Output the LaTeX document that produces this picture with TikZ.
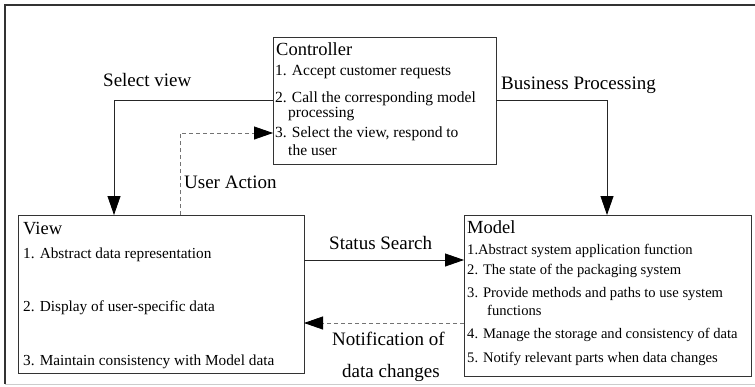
\documentclass[tikz,border=0pt]{standalone}
\usepackage{fontspec}
\setmainfont{Liberation Serif}
\usetikzlibrary{arrows.meta}
\begin{document}
\begin{tikzpicture}[x=1pt,y=-1pt,
  box/.style={draw=black!80, line width=0.9pt, anchor=north west, inner sep=0pt, outer sep=0pt},
  ttl/.style={anchor=base west, inner sep=0pt, font=\fontsize{18.5}{20}\selectfont},
  citm/.style={anchor=base west, inner sep=0pt, font=\fontsize{15.5}{17}\selectfont},
  vitm/.style={anchor=base west, inner sep=0pt, font=\fontsize{15.3}{17}\selectfont},
  mitm/.style={anchor=base west, inner sep=0pt, font=\fontsize{14.6}{16}\selectfont},
  lbl/.style={anchor=base west, inner sep=0pt, font=\fontsize{19}{21}\selectfont},
  conn/.style={draw=black!85, line width=0.8pt},
  dconn/.style={draw=black!55, line width=0.8pt, dash pattern=on 4pt off 3pt},
  tip/.style={-{Triangle[length=19pt,width=13pt,color=black]}}
]
\useasboundingbox (0,0) rectangle (755,386);
% frame
\draw[black!80, line width=1.2pt] (755,5) -- (5,5) -- (5,384);
\draw[black!20, line width=1pt] (5,384) -- (755,384);

% boxes
\node[box, minimum width=223pt, minimum height=127pt] (ctrl) at (273,37) {};
\node[box, minimum width=286pt, minimum height=158pt] (view) at (18,215) {};
\node[box, minimum width=287pt, minimum height=161pt] (model) at (464,215) {};

% controller text
\node[ttl] (ctitle) at (276,55) {Controller};
\node[citm] (c1) at (275,75) {1. Accept customer requests};
\node[citm] (c2) at (275,102) {2. Call the corresponding model};
\node[citm] (c2b) at (288,117) {processing};
\node[citm] (c3) at (275,137) {3. Select the view, respond to};
\node[citm] (c3b) at (288,155) {the user};

% view text
\node[ttl] (vtitle) at (23,234) {View};
\node[vitm] (v1) at (23,258) {1. Abstract data representation};
\node[vitm] (v2) at (23,311) {2. Display of user-specific data};
\node[vitm] (v3) at (23,365) {3. Maintain consistency with Model data};

% model text
\node[ttl] (mtitle) at (467,233) {Model};
\node[mitm] (m1) at (467,254) {1.Abstract system application function};
\node[mitm] (m2) at (467,274) {2. The state of the packaging system};
\node[mitm] (m3) at (467,297) {3. Provide methods and paths to use system};
\node[mitm] (m3b) at (487,315) {functions};
\node[mitm] (m4) at (467,338) {4. Manage the storage and consistency of data};
\node[mitm] (m5) at (467,362) {5. Notify relevant parts when data changes};

% connector coordinates
\coordinate (svend) at (114,215);
\coordinate (bpend) at (607,215);
\coordinate (uastart) at (180,215);
\coordinate (uaend) at (273,133);
\coordinate (ssstart) at (304,260);
\coordinate (ssend) at (464,260);
\coordinate (ndstart) at (464,323);
\coordinate (ndend) at (304,323);

% connectors
\draw[conn, tip] (ctrl.west) -| (svend);
\draw[conn, tip] (ctrl.east) -| (bpend);
\draw[dconn, tip] (uastart) |- (uaend);
\draw[conn, tip] (ssstart) -- (ssend);
\draw[dconn, tip] (ndstart) -- (ndend);

% labels
\node[lbl] (lsv) at (103,86) {Select view};
\node[lbl] (lbp) at (501,89) {Business Processing};
\node[lbl] (lua) at (184,188) {User Action};
\node[lbl] (lss) at (329,249) {Status Search};
\node[lbl] (lnd1) at (332,345) {Notification of};
\node[lbl] (lnd2) at (342,377) {data changes};
\end{tikzpicture}
\end{document}
